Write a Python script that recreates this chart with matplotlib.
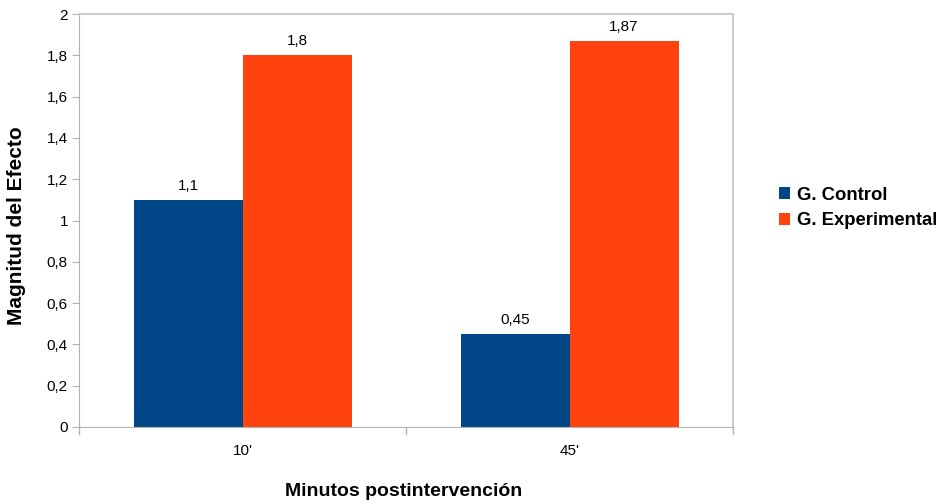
import matplotlib.pyplot as plt
import numpy as np

plt.rcParams['font.family'] = ['Liberation Sans', 'DejaVu Sans']

minutos = ["10'", "45'"]
control = [1.1, 0.45]
experimental = [1.8, 1.87]
etiquetas_control = ["1,1", "0,45"]
etiquetas_exp = ["1,8", "1,87"]
yticks = [0, 0.2, 0.4, 0.6, 0.8, 1, 1.2, 1.4, 1.6, 1.8, 2]
ytick_labels = ["0", "0,2", "0,4", "0,6", "0,8", "1", "1,2", "1,4", "1,6", "1,8", "2"]

fig = plt.figure(figsize=(9.48, 5.04), dpi=100)
ax = fig.add_axes([79 / 948, 77 / 504, 654 / 948, 413 / 504])

x = np.arange(len(minutos))
w = 1 / 3
b1 = ax.bar(x - w / 2, control, w, color='#004586', label='G. Control')
b2 = ax.bar(x + w / 2, experimental, w, color='#ff420e', label='G. Experimental')

for bars, labels in ((b1, etiquetas_control), (b2, etiquetas_exp)):
    for bar, lab in zip(bars, labels):
        ax.annotate(lab, (bar.get_x() + bar.get_width() / 2, bar.get_height()),
                    xytext=(0, 5), textcoords='offset points',
                    ha='center', va='bottom', fontsize=11)

ax.set_xlim(-0.5, 1.5)
ax.set_ylim(0, 2)
ax.set_yticks(yticks)
ax.set_yticklabels(ytick_labels, fontsize=11)
ax.set_xticks(x)
ax.set_xticklabels(minutos, fontsize=11)
ax.tick_params(axis='x', length=0, pad=12)
ax.tick_params(axis='y', length=5, color='#b3b3b3', pad=3)

# category separators below the x axis
for xs in (-0.5, 0.5, 1.5):
    ax.plot([xs, xs], [0, -0.035], color='#b3b3b3', lw=1, clip_on=False)

for side in ('left', 'bottom'):
    ax.spines[side].set_color('#b3b3b3')
for side in ('top', 'right'):
    ax.spines[side].set_color('#cccccc')
    ax.spines[side].set_linewidth(1.5)

fig.text(17 / 948, 1 - 226 / 504, 'Magnitud del Efecto', rotation=90,
         ha='center', va='center', fontsize=15, fontweight='bold')
fig.text(404 / 948, 1 - 491 / 504, 'Minutos postintervención',
         ha='center', va='center', fontsize=14, fontweight='bold')

fig.legend(handles=[b1, b2], loc='center left', bbox_to_anchor=(779 / 948, 1 - 208 / 504),
           frameon=False, prop={'weight': 'bold', 'size': 13.3},
           handlelength=0.6, handleheight=0.6, handletextpad=0.35, labelspacing=0.45,
           borderaxespad=0, borderpad=0)

plt.savefig('out.png', dpi=100)
plt.close()
